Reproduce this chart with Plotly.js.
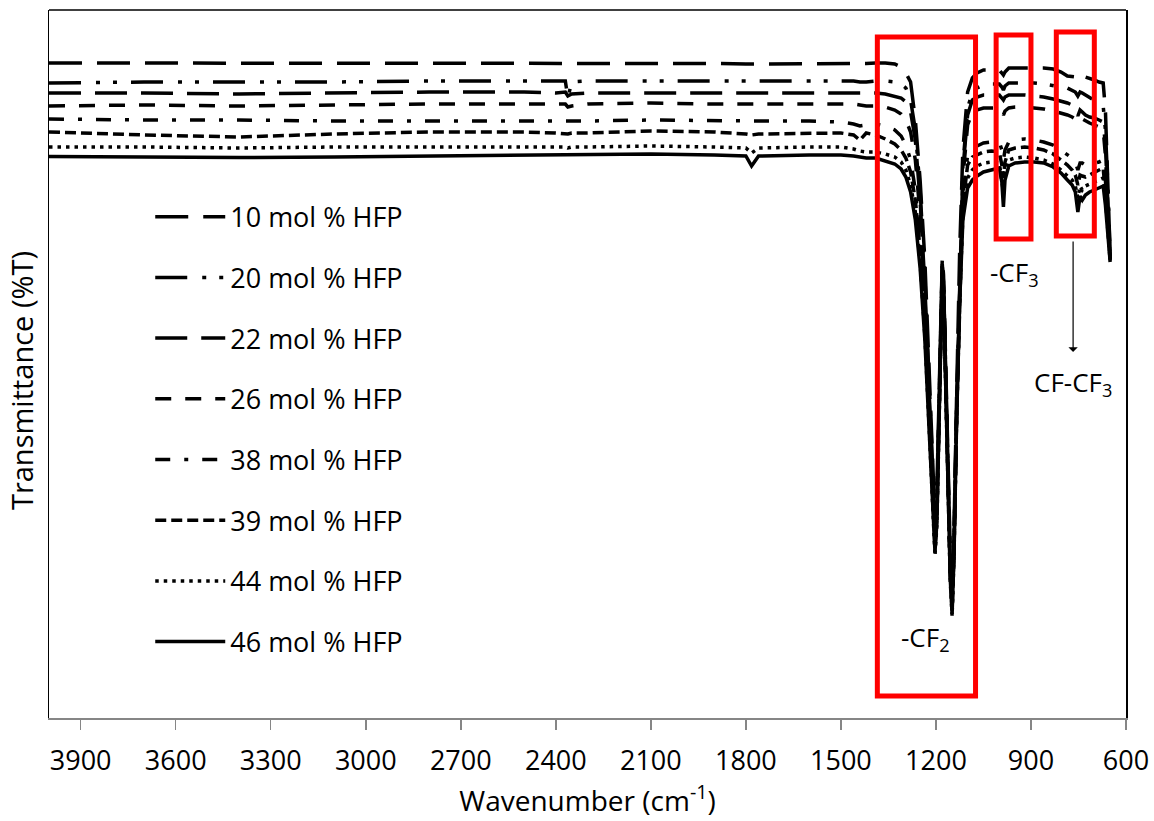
<!DOCTYPE html>
<html>
<head>
<meta charset="utf-8">
<script src="https://cdn.plot.ly/plotly-3.0.1.min.js"></script>
<style>html,body{margin:0;padding:0;background:#fff;}#chart{width:1154px;height:821px;}</style>
</head>
<body>
<div id="chart"></div>
<script>
// Wavenumber grid (cm-1)
const wavenumber = [4000,3700,3400,3100,2800,2500,2400,2370,2362,2350,2300,2100,1900,1800,1782,1760,1600,1500,1460,1440,1420,1390,1360,1330,1310,1295,1280,1265,1250,1235,1220,1210,1203,1197,1190,1184,1180,1176,1170,1162,1155,1149,1143,1135,1125,1115,1100,1085,1070,1050,1025,1000,992,987,982,970,950,920,890,860,830,805,785,770,760,752,745,738,728,715,700,685,672,665,658,650];

// Transmittance (%T, offset spectra)
const hfp10 = [93.7,93.7,93.7,93.7,93.65,93.65,93.65,93.65,93.65,93.65,93.65,93.7,93.65,93.6,93.6,93.6,93.6,93.6,93.6,93.6,93.65,93.7,93.7,93.6,93.3,92.7,91.8,88.0,82.0,74.0,62.0,53.0,48.0,51.0,60.0,70.0,74.2,72.5,64.0,53.0,45.0,41.0,47.0,60.0,75.0,85.0,90.8,92.2,92.7,93.0,93.0,93.0,92.7,92.5,92.8,93.2,93.2,93.2,93.2,93.2,93.1,92.8,92.4,92.3,92.3,92.0,92.3,92.4,92.3,92.2,92.0,91.8,91.7,89.0,83.0,74.5];
const hfp20 = [91.7,91.8,91.8,91.8,91.9,91.9,91.9,91.9,90.2,91.8,91.9,91.9,91.9,91.9,91.9,91.9,91.9,91.9,91.9,91.8,91.8,91.9,91.9,91.8,91.6,91.2,90.0,87.0,81.0,72.5,61.0,52.0,47.2,50.0,59.0,69.0,73.8,72.0,63.5,52.0,44.0,40.2,46.0,59.0,73.0,83.5,89.2,90.8,91.2,91.5,91.6,91.6,91.3,91.0,91.4,91.7,91.7,91.7,91.7,91.6,91.4,91.3,91.2,91.0,90.8,90.4,90.8,90.7,90.5,90.3,90.0,89.7,89.4,87.0,82.0,74.3];
const hfp22 = [90.7,90.7,90.6,90.7,90.8,90.8,90.7,90.8,90.4,90.6,90.7,90.7,90.7,90.7,90.7,90.7,90.7,90.7,90.7,90.7,90.7,90.7,90.6,90.4,90.2,89.8,88.8,86.0,80.0,71.5,60.0,51.0,46.5,49.5,58.5,68.8,73.6,71.8,63.2,51.5,43.5,39.7,45.5,58.5,72.5,83.0,88.5,90.0,90.3,90.5,90.5,90.5,90.2,90.0,90.3,90.5,90.5,90.5,90.4,90.3,90.1,89.9,89.7,89.5,89.2,88.4,89.0,88.8,88.5,88.3,88.2,88.0,87.8,85.5,81.0,74.2];
const hfp26 = [89.4,89.5,89.4,89.5,89.6,89.6,89.6,89.6,89.3,89.4,89.6,89.7,89.6,89.6,89.6,89.6,89.6,89.6,89.6,89.5,89.4,89.4,89.3,89.0,88.6,88.0,86.8,84.0,78.5,70.5,59.2,50.5,46.0,49.0,58.0,68.5,73.4,71.6,63.0,51.0,43.0,39.4,45.2,58.2,72.0,82.2,87.5,88.8,89.0,89.2,89.2,89.2,88.8,88.5,88.9,89.2,89.3,89.3,89.2,89.1,88.9,88.7,88.5,88.3,88.1,87.8,88.2,88.1,87.9,87.7,87.5,87.3,87.0,84.5,80.0,74.1];
const hfp38 = [88.1,88.0,88.0,87.9,87.9,87.9,87.9,87.9,87.9,87.9,87.9,88.0,87.9,87.9,87.9,87.9,87.9,87.8,87.6,87.4,87.5,87.6,87.4,87.0,86.4,85.5,84.0,81.0,76.0,68.5,58.0,49.5,45.5,48.5,57.5,68.0,73.2,71.3,62.7,50.8,42.8,39.2,45.0,58.0,71.0,80.5,84.5,85.2,85.4,85.7,85.8,85.8,85.0,84.0,85.0,85.8,86.0,86.1,86.0,85.8,85.5,85.0,84.5,84.2,83.8,83.0,83.7,83.7,83.5,83.5,83.7,83.8,84.0,82.0,78.5,74.0];
const hfp39 = [86.8,86.5,86.3,86.6,86.8,86.8,86.7,86.6,86.6,86.7,86.7,86.9,86.8,86.6,86.5,86.6,86.7,86.7,86.5,86.0,86.7,86.5,86.1,85.6,85.0,84.2,82.8,80.0,75.0,67.5,57.2,49.0,45.2,48.2,57.2,67.8,73.0,71.1,62.5,50.5,42.5,39.0,44.8,57.8,70.5,79.5,83.5,84.3,84.5,84.8,84.9,84.8,83.5,82.2,83.8,85.0,85.2,85.3,85.2,85.0,84.6,84.0,83.5,83.0,82.5,81.5,82.5,82.4,82.3,82.5,82.8,83.0,83.2,81.0,78.0,74.0];
const hfp44 = [85.3,85.3,85.2,85.3,85.3,85.3,85.3,85.3,85.2,85.3,85.3,85.4,85.3,85.2,84.7,85.2,85.3,85.3,85.1,84.9,84.8,84.8,84.6,84.3,83.8,83.0,81.5,78.8,73.8,66.5,56.2,48.2,44.4,47.5,56.8,67.4,72.7,70.8,62.0,50.0,42.0,38.4,44.4,57.4,70.0,78.5,82.2,83.0,83.4,83.7,83.8,83.7,82.2,80.8,82.8,84.0,84.2,84.3,84.2,84.0,83.6,83.0,82.4,82.0,81.4,80.2,81.4,81.0,81.4,81.6,81.8,82.0,82.2,80.2,77.5,73.9];
const hfp46 = [84.35,84.3,84.25,84.3,84.4,84.5,84.5,84.5,84.5,84.5,84.5,84.6,84.5,84.4,83.4,84.4,84.5,84.5,84.4,84.3,84.2,84.2,83.9,83.6,83.1,82.3,80.8,78.0,73.2,66.0,56.0,48.5,44.8,47.8,57.0,67.6,72.8,70.9,62.2,50.2,42.2,38.6,44.4,57.5,69.8,78.0,81.2,82.0,82.4,82.8,83.0,83.2,81.8,79.3,82.0,83.4,83.7,83.8,83.8,83.7,83.3,82.7,82.0,81.5,80.8,78.8,80.4,80.0,80.5,80.8,81.0,81.2,81.4,79.5,77.0,73.8];

const seriesNames = ['10 mol % HFP','20 mol % HFP','22 mol % HFP','26 mol % HFP','38 mol % HFP','39 mol % HFP','44 mol % HFP','46 mol % HFP'];
const seriesValues = [hfp10,hfp20,hfp22,hfp26,hfp38,hfp39,hfp44,hfp46];
const dashes = ['33px,15px','32px,15px,4px,13px,4px,14px','32px,14px','16px,14px','15px,14px,4px,14px','11px,5px','3.5px,5px','solid'];

// Band-region annotation boxes (cm-1 bounds) and labels
const boxX0 = [1385, 1010, 820];
const boxX1 = [1075, 900, 700];
const boxY0 = [30.4, 76.1, 76.4];
const boxY1 = [96.3, 96.5, 96.8];

const FONT = 'Open Sans, Noto Sans, sans-serif';

const traces = seriesNames.map((n,i)=>({
  x: wavenumber, y: seriesValues[i], name: n, type:'scatter', mode:'lines',
  legendgroup: 'g'+i,
  line:{color:'#000', width:3.5, dash: dashes[i]}
}));

const shapes = boxX0.map((x0,i)=>({
  type:'rect', xref:'x', yref:'y', x0:x0, x1:boxX1[i], y0:boxY0[i], y1:boxY1[i],
  line:{color:'#ff0000', width:5}, fillcolor:'rgba(0,0,0,0)'
}));
shapes.push({type:'line', xref:'paper', yref:'paper', x0:0, x1:1, y0:1, y1:1, line:{color:'#000', width:1.5}});

const annotations = [
  {x:1234, y:36.2, xref:'x', yref:'y', text:'-CF<sub>2</sub>', showarrow:false, font:{family:FONT,size:26,color:'#000'}},
  {x:953, y:72.7, xref:'x', yref:'y', text:'-CF<sub>3</sub>', showarrow:false, font:{family:FONT,size:26,color:'#000'}},
  {x:767, y:61.7, xref:'x', yref:'y', text:'CF-CF<sub>3</sub>', showarrow:false, font:{family:FONT,size:26,color:'#000'}},
  {x:767, y:64.8, ax:767, ay:76.0, xref:'x', yref:'y', axref:'x', ayref:'y', text:'', showarrow:true, arrowhead:1, arrowsize:1.3, arrowwidth:1.2, arrowcolor:'#000'},
  {x:-0.025, y:0.476, xref:'paper', yref:'paper', text:'Transmittance (%T)', textangle:-90, showarrow:false, xanchor:'center', yanchor:'middle', font:{family:FONT,size:29,color:'#000'}}
];

const layout = {
  width:1154, height:821,
  margin:{l:49, r:28, t:10, b:103},
  paper_bgcolor:'#fff', plot_bgcolor:'#fff',
  font:{family:FONT, size:27, color:'#000'},
  showlegend:true,
  legend:{x:0.094, y:0.742, xanchor:'left', yanchor:'top', bgcolor:'rgba(0,0,0,0)', tracegroupgap:22.6, itemwidth:70, font:{family:FONT,size:27,color:'#000'}},
  xaxis:{range:[4000,600], tick0:600, dtick:300, ticks:'outside', ticklen:10, tickwidth:1.5, tickcolor:'#868686',
    showline:true, linecolor:'#868686', linewidth:1.5, showgrid:false, zeroline:false, ticklabelstandoff:8,
    tickfont:{family:FONT,size:27,color:'#000'},
    title:{text:'Wavenumber (cm<sup>-1</sup>)', standoff:14, font:{family:FONT,size:28,color:'#000'}}},
  yaxis:{range:[28.2,99], showticklabels:false, ticks:'', showline:true, linecolor:'#000', linewidth:1.5, mirror:true,
    showgrid:false, zeroline:false},
  shapes:shapes, annotations:annotations
};

Plotly.newPlot('chart', traces, layout, {displayModeBar:false, staticPlot:true});
</script>
</body>
</html>
